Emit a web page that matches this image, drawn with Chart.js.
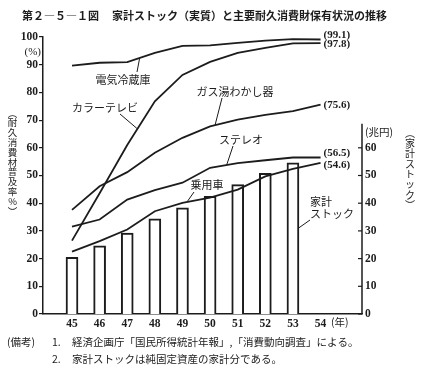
<!DOCTYPE html>
<html>
<head>
<meta charset="utf-8">
<script src="https://cdn.jsdelivr.net/npm/chart.js@4/dist/chart.umd.min.js"></script>
<style>
  body { margin: 0; background: #fff; }
  canvas { display: block; }
</style>
</head>
<body>
<canvas id="chart" width="425" height="372"></canvas>
<script>
// 年 (昭和)
const years = [45, 46, 47, 48, 49, 50, 51, 52, 53, 54];
// 普及率 (%)
const fridge = [89.7, 90.7, 90.9, 94.3, 96.8, 97.0, 97.9, 98.7, 99.2, 99.1];
const colorTV = [26.5, 43.6, 61.0, 76.8, 86.3, 91.0, 94.3, 96.1, 97.7, 97.8];
const gasHeater = [37.6, 46.1, 51.2, 58.2, 63.6, 67.7, 70.2, 71.9, 73.2, 75.6];
const stereo = [31.5, 34.1, 41.3, 44.7, 47.4, 52.8, 54.5, 55.5, 56.5, 56.5];
const car = [22.5, 26.3, 30.5, 37.1, 40.1, 42.0, 44.9, 49.7, 52.4, 54.6];
// 家計ストック (兆円), 45-53年
const stockYears = [45, 46, 47, 48, 49, 50, 51, 52, 53];
const stock = [20.5, 24.6, 29.2, 34.4, 38.3, 42.5, 46.7, 50.8, 54.6];
// 軸目盛
const leftTicks = [0, 10, 20, 30, 40, 50, 60, 70, 80, 90, 100];
const rightTicks = [0, 10, 20, 30, 40, 50, 60];

const INK = '#1c1c1c';
const JP = '"Noto Sans CJK JP", sans-serif';
const NUM = '"Liberation Serif", serif';

function pts(xs, ys) {
    return xs.map((x, i) => ({x: x, y: ys[i]}));
}

function lineSet(values) {
    return {
        type: 'line',
        data: pts(years, values),
        yAxisID: 'y',
        borderColor: INK,
        borderWidth: 1.8,
        pointRadius: 0,
        tension: 0,
        fill: false,
        order: 1
    };
}

// labels on the plot, leader end given in data units
const notes = [
    {text: '電気冷蔵庫', tx: 123, ty: 80, from: [137, 72], to: [47.45, 92.4]},
    {text: 'カラーテレビ', tx: 105, ty: 108, from: [120, 114], to: [47.35, 67.0]},
    {text: 'ガス湯わかし器', tx: 235, ty: 92, from: [222, 98], to: [50.18, 68.2]},
    {text: 'ステレオ', tx: 241, ty: 140, from: [233, 146], to: [50.6, 53.8]},
    {text: '乗用車', tx: 207, ty: 185, from: [194, 192], to: [49.16, 40.4]}
];
const endLabels = [
    {text: '(99.1)', y: 35},
    {text: '(97.8)', y: 44},
    {text: '(75.6)', y: 105},
    {text: '(56.5)', y: 153},
    {text: '(54.6)', y: 165}
];

function vtext(ctx, chars, x, y0, step) {
    chars.forEach((c, i) => ctx.fillText(c, x, y0 + i * step));
}

const overlay = {
    id: 'overlay',
    afterDraw(chart) {
        const ctx = chart.ctx;
        const {x, y, y2} = chart.scales;
        const area = chart.chartArea;
        ctx.save();
        ctx.fillStyle = INK;
        ctx.strokeStyle = INK;

        // right axis: partial line with inward ticks
        ctx.lineWidth = 1.5;
        ctx.beginPath();
        ctx.moveTo(area.right, y2.getPixelForValue(0));
        ctx.lineTo(area.right, y2.getPixelForValue(68.7));
        ctx.stroke();
        ctx.lineWidth = 1.2;
        rightTicks.forEach(v => {
            const py = y2.getPixelForValue(v);
            ctx.beginPath();
            ctx.moveTo(area.right - 4, py);
            ctx.lineTo(area.right, py);
            ctx.stroke();
        });

        // title
        ctx.textBaseline = 'middle';
        ctx.textAlign = 'left';
        ctx.font = 'bold 11px ' + JP;
        ctx.fillText('第２―５―１図', 22, 16);
        ctx.fillText('家計ストック（実質）と主要耐久消費財保有状況の推移', 112, 16);

        // unit labels
        ctx.font = '11px ' + NUM;
        ctx.textAlign = 'right';
        ctx.fillText('(%)', 41, 52);
        ctx.textAlign = 'left';
        ctx.font = '10.5px ' + JP;
        ctx.fillText('(兆円)', 365, 132);
        ctx.fillText('(年)', 331, 322);

        // vertical axis titles
        ctx.textAlign = 'center';
        ctx.font = '9.5px ' + JP;
        vtext(ctx, ['︵', '耐', '久', '消', '費', '材', '普', '及', '率', '%', '︶'], 12.5, 113, 9.8);
        ctx.font = '10px ' + JP;
        vtext(ctx, ['︵', '家', '計', 'ス', 'ト', 'ッ', 'ク', '︶'], 410, 133, 10.3);

        // series labels with leader lines
        ctx.font = '11px ' + JP;
        ctx.lineWidth = 1;
        notes.forEach(n => {
            ctx.fillText(n.text, n.tx, n.ty);
            ctx.beginPath();
            ctx.moveTo(n.from[0], n.from[1]);
            ctx.lineTo(x.getPixelForValue(n.to[0]), y.getPixelForValue(n.to[1]));
            ctx.stroke();
        });
        // 家計ストック label, leader to last bar
        ctx.textAlign = 'left';
        ctx.fillText('家計', 310, 202);
        ctx.fillText('ストック', 310, 214);
        ctx.beginPath();
        ctx.moveTo(310, 220);
        ctx.lineTo(x.getPixelForValue(53.2), y2.getPixelForValue(31));
        ctx.stroke();

        // end values
        ctx.font = 'bold 11px ' + NUM;
        endLabels.forEach(l => ctx.fillText(l.text, x.getPixelForValue(54) + 3, l.y));

        // notes
        ctx.font = '10.5px ' + JP;
        ctx.fillText('(備考)', 7, 342);
        ctx.fillText('1.', 52, 342);
        ctx.fillText('経済企画庁「国民所得統計年報」,「消費動向調査」による。', 72, 342);
        ctx.fillText('2.', 52, 359);
        ctx.fillText('家計ストックは純固定資産の家計分である。', 72, 359);
        ctx.restore();
    }
};

new Chart(document.getElementById('chart'), {
    data: {
        datasets: [
            lineSet(fridge),
            lineSet(colorTV),
            lineSet(gasHeater),
            lineSet(stereo),
            lineSet(car),
            {
                type: 'bar',
                data: pts(stockYears, stock),
                yAxisID: 'y2',
                backgroundColor: '#ffffff',
                borderColor: INK,
                borderWidth: 2,
                barThickness: 12,
                order: 2
            }
        ]
    },
    options: {
        responsive: false,
        devicePixelRatio: 1,
        animation: false,
        layout: {padding: {top: 37, left: 0, right: 0, bottom: 0}},
        plugins: {
            legend: {display: false},
            tooltip: {enabled: false}
        },
        scales: {
            x: {
                type: 'linear',
                offset: false,
                min: 43.95,
                max: 55.5,
                afterFit: s => { s.height = 58; },
                afterBuildTicks: s => { s.ticks = years.map(v => ({value: v})); },
                grid: {display: false, drawTicks: false, offset: false},
                border: {display: true, color: INK, width: 1.5},
                ticks: {
                    color: INK,
                    padding: 3,
                    autoSkip: false,
                    maxRotation: 0,
                    font: {family: NUM, size: 11.5, weight: 'bold'},
                    callback: v => String(v)
                }
            },
            y: {
                position: 'left',
                min: 0,
                max: 100,
                afterFit: s => { s.width = 43; },
                afterBuildTicks: s => { s.ticks = leftTicks.map(v => ({value: v})); },
                grid: {drawOnChartArea: false, drawTicks: true, tickLength: 4, color: INK, lineWidth: 1.2},
                border: {display: true, color: INK, width: 1.5},
                ticks: {
                    color: INK,
                    padding: 1,
                    font: {family: NUM, size: 11.5, weight: 'bold'}
                }
            },
            y2: {
                position: 'right',
                min: 0,
                max: 100,
                afterFit: s => { s.width = 63; },
                afterBuildTicks: s => { s.ticks = rightTicks.map(v => ({value: v})); },
                grid: {display: false, drawTicks: false},
                border: {display: false},
                ticks: {
                    color: INK,
                    padding: 3,
                    font: {family: NUM, size: 11.5, weight: 'bold'}
                }
            }
        }
    },
    plugins: [overlay]
});
</script>
</body>
</html>
